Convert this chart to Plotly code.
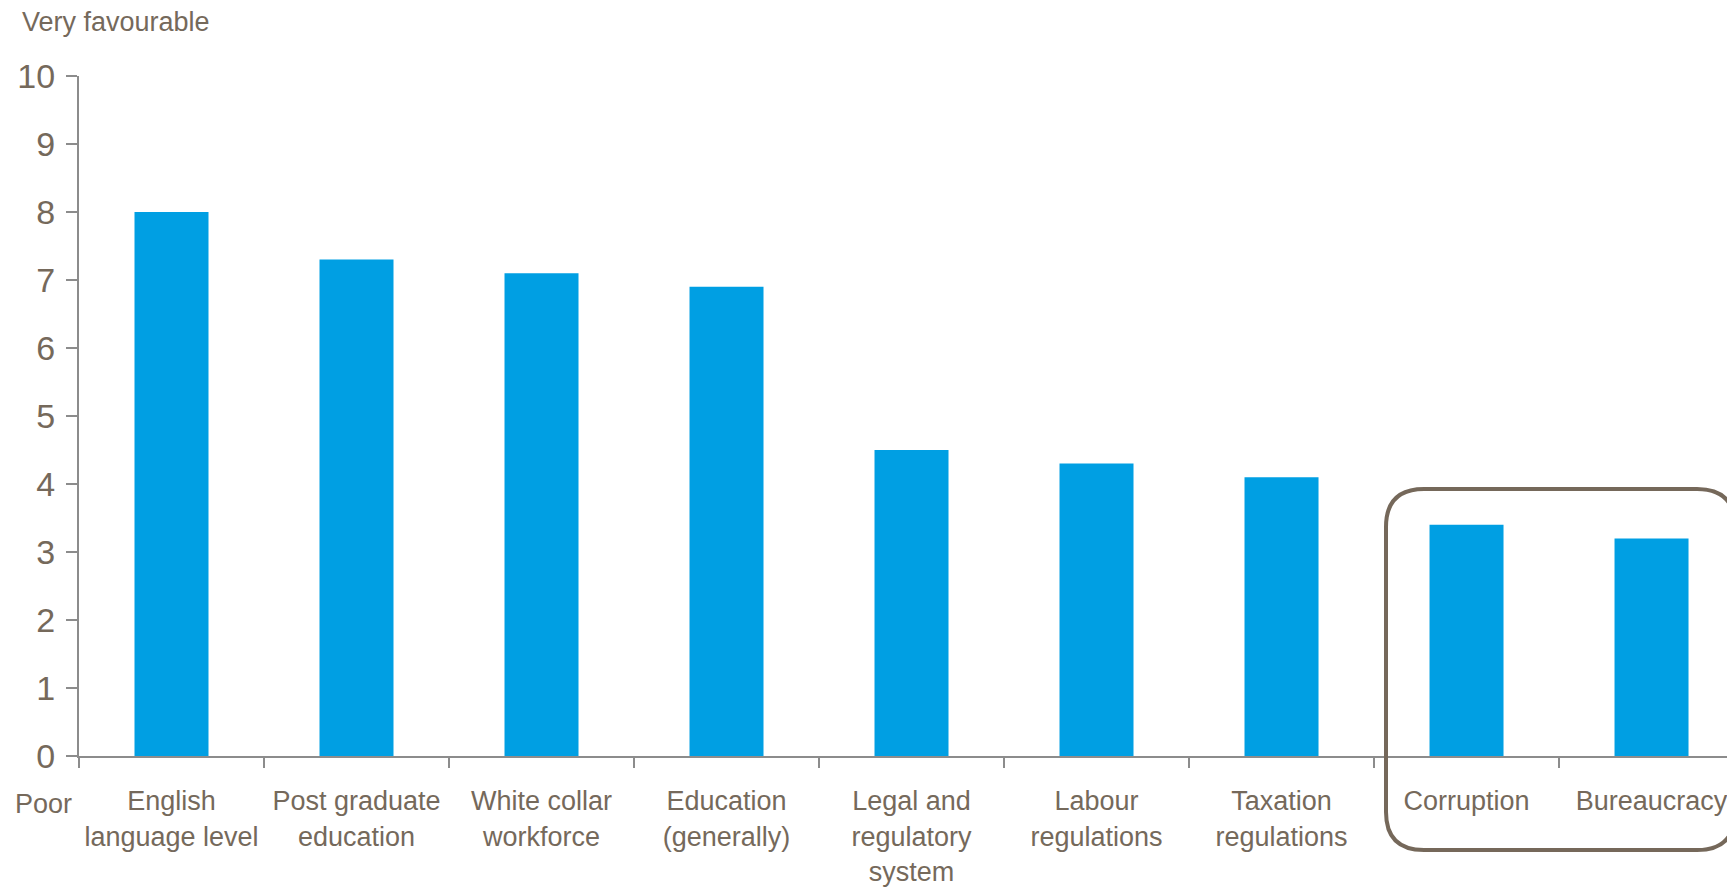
import plotly.graph_objects as go

categories = [
    "English<br>language level",
    "Post graduate<br>education",
    "White collar<br>workforce",
    "Education<br>(generally)",
    "Legal and<br>regulatory<br>system",
    "Labour<br>regulations",
    "Taxation<br>regulations",
    "Corruption",
    "Bureaucracy",
]
scores = [8.0, 7.3, 7.1, 6.9, 4.5, 4.3, 4.1, 3.4, 3.2]
y_ticks = list(range(0, 11))

W, H = 1727, 890
ML, MR, MT, MB = 79, 0, 76, 134
PW, PH = W - ML - MR, H - MT - MB

TEXT = "#75695b"
AXIS = "#8c8c8c"
BAR = "#009fe3"
FONT = "Liberation Sans Narrow, Arial Narrow, Liberation Sans, Arial, sans-serif"


def px_to_paper(px, py):
    return (px - ML) / PW, (H - MB - py) / PH


fig = go.Figure(
    go.Bar(
        x=categories,
        y=scores,
        marker=dict(color=BAR, line=dict(width=0)),
        width=0.4,
        hoverinfo="x+y",
    )
)

fig.update_layout(
    width=W,
    height=H,
    autosize=False,
    margin=dict(l=ML, r=MR, t=MT, b=MB, autoexpand=False),
    paper_bgcolor="white",
    plot_bgcolor="white",
    showlegend=False,
    font=dict(family=FONT, color=TEXT),
)

fig.update_xaxes(
    type="category",
    range=[-0.5, 8.408],
    automargin=False,
    tickangle=0,
    showline=True,
    linecolor=AXIS,
    linewidth=2,
    ticks="outside",
    tickson="boundaries",
    ticklen=10,
    tickwidth=2,
    tickcolor=AXIS,
    tickfont=dict(size=27, color=TEXT, family=FONT),
    ticklabelstandoff=20,
    showgrid=False,
    zeroline=False,
)

fig.update_yaxes(
    range=[0, 10],
    tickvals=y_ticks,
    automargin=False,
    showline=True,
    linecolor=AXIS,
    linewidth=2,
    ticks="outside",
    ticklen=11,
    tickwidth=2,
    tickcolor=AXIS,
    tickfont=dict(size=34, color=TEXT, family=FONT),
    ticklabelstandoff=4,
    showgrid=False,
    zeroline=False,
)

# axis end labels
vx, vy = px_to_paper(20, 22)
fig.add_annotation(text="Very favourable", xref="paper", yref="paper", x=vx, y=vy,
                   xanchor="left", yanchor="middle", showarrow=False,
                   font=dict(size=27, color=TEXT, family=FONT))
px_, py_ = px_to_paper(43, 804)
fig.add_annotation(text="Poor", xref="paper", yref="paper", x=px_, y=py_,
                   xanchor="center", yanchor="middle", showarrow=False,
                   font=dict(size=27, color=TEXT, family=FONT))

# rounded frame around the last two categories
x0p, x1p, y0p, y1p, r = 1386, 1735, 489, 850, 38
rx, ry = r / PW, r / PH
x0, y1 = px_to_paper(x0p, y0p)
x1, y0 = px_to_paper(x1p, y1p)
path = (
    f"M {x0 + rx},{y1} L {x1 - rx},{y1} Q {x1},{y1} {x1},{y1 - ry} "
    f"L {x1},{y0 + ry} Q {x1},{y0} {x1 - rx},{y0} "
    f"L {x0 + rx},{y0} Q {x0},{y0} {x0},{y0 + ry} "
    f"L {x0},{y1 - ry} Q {x0},{y1} {x0 + rx},{y1} Z"
)
fig.add_shape(type="path", path=path, xref="paper", yref="paper",
              line=dict(color="#75685a", width=4), layer="above")

fig.write_html("out.html")
